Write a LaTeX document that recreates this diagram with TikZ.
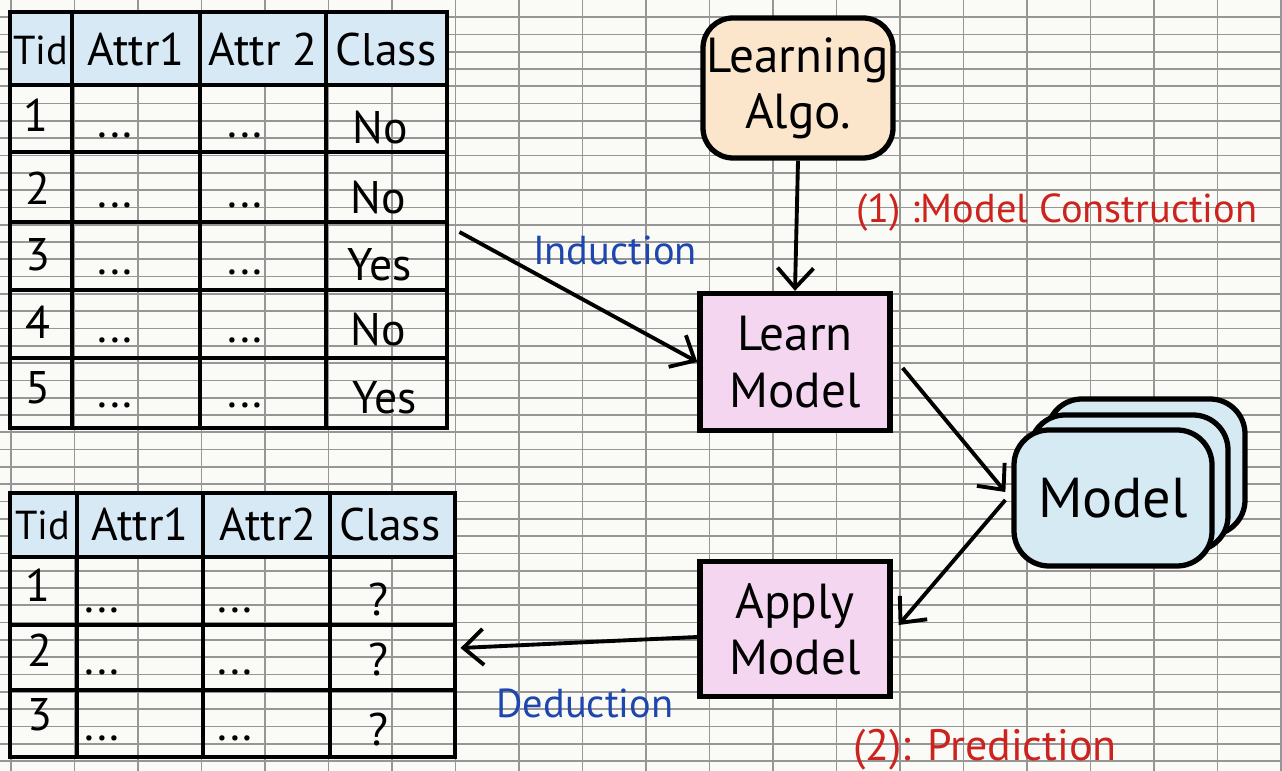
\documentclass[tikz,border=0pt]{standalone}
\usepackage{fontspec}
\setmainfont{PT Sans}
\usepackage{tikz}
\usetikzlibrary{arrows.meta, positioning, calc}
\usepackage{xcolor}
\definecolor{paper}{RGB}{250,250,247}
\definecolor{rule}{RGB}{150,150,150}
\definecolor{headblue}{RGB}{216,233,246}
\definecolor{algofill}{RGB}{251,230,204}
\definecolor{stepfill}{RGB}{244,214,240}
\definecolor{modelfill}{RGB}{214,234,244}
\definecolor{inkblue}{RGB}{30,70,175}
\definecolor{inkred}{RGB}{205,35,30}

\begin{document}
\begin{tikzpicture}[
  cell/.style={font=\fontsize{13}{15}\selectfont, inner sep=0pt},
  tab/.style={draw, line width=1.4pt, inner sep=0pt},
  box/.style={draw, line width=1.5pt, minimum width=1.9cm, minimum height=1.37cm, align=center, inner sep=1pt, font=\fontsize{14}{16}\selectfont},
  mbox/.style={draw, line width=1.5pt, rounded corners=3.5mm, fill=modelfill, minimum width=1.98cm, minimum height=1.36cm, font=\fontsize{16}{18}\selectfont},
  flow/.style={-{Straight Barb[length=2mm,width=3.6mm]}, line width=1.1pt},
  note/.style={font=\fontsize{11.5}{13}\selectfont, inner sep=0pt}
]
  \fill[paper] (0,0) rectangle (12.82,7.71);
  \useasboundingbox (0,0) rectangle (12.82,7.71);
  % Paper rules
  \foreach \k in {0,...,43} \draw[rule, line width=0.5pt] (0,{7.539-0.173*\k}) -- (12.82,{7.539-0.173*\k});
  \foreach \k in {0,...,20} \draw[rule, line width=0.5pt] ({0.11+0.635*\k},0) -- ({0.11+0.635*\k},7.71);

  % Training set
  \fill[headblue] (0.10,6.86) rectangle (4.47,7.59);
  \node[tab, minimum width=4.37cm, minimum height=4.16cm] (trainTab) at (2.285,5.51) {};
  \draw[line width=1.4pt] (0.10,6.86) -- (4.47,6.86); \draw[line width=1.4pt] (0.10,6.19) -- (4.47,6.19);
  \draw[line width=1.4pt] (0.10,5.49) -- (4.47,5.49); \draw[line width=1.4pt] (0.10,4.81) -- (4.47,4.81);
  \draw[line width=1.4pt] (0.10,4.13) -- (4.47,4.13);
  \draw[line width=1.4pt] (0.72,3.43) -- (0.72,7.59); \draw[line width=1.4pt] (2.00,3.43) -- (2.00,7.59);
  \draw[line width=1.4pt] (3.26,3.43) -- (3.26,7.59);
  \node[cell, font=\fontsize{11.5}{13}\selectfont] (trH1) at (0.41,7.21) {Tid}; \node[cell] (trH2) at (1.36,7.21) {Attr1};
  \node[cell] (trH3) at (2.63,7.21) {Attr 2}; \node[cell] (trH4) at (3.86,7.21) {Class};
  \node[cell] (tr1a) at (0.36,6.56) {1}; \node[cell] (tr1b) at (1.15,6.36) {...};
  \node[cell] (tr1c) at (2.45,6.36) {...}; \node[cell] (tr1d) at (3.80,6.43) {No};
  \node[cell] (tr2a) at (0.38,5.83) {2}; \node[cell] (tr2b) at (1.15,5.66) {...};
  \node[cell] (tr2c) at (2.45,5.66) {...}; \node[cell] (tr2d) at (3.78,5.73) {No};
  \node[cell] (tr3a) at (0.38,5.16) {3}; \node[cell] (tr3b) at (1.15,4.99) {...};
  \node[cell] (tr3c) at (2.45,4.99) {...}; \node[cell] (tr3d) at (3.80,5.06) {Yes};
  \node[cell] (tr4a) at (0.38,4.49) {4}; \node[cell] (tr4b) at (1.15,4.31) {...};
  \node[cell] (tr4c) at (2.45,4.31) {...}; \node[cell] (tr4d) at (3.78,4.41) {No};
  \node[cell] (tr5a) at (0.38,3.83) {5}; \node[cell] (tr5b) at (1.15,3.66) {...};
  \node[cell] (tr5c) at (2.45,3.66) {...}; \node[cell] (tr5d) at (3.85,3.73) {Yes};

  % Test set
  \fill[headblue] (0.10,2.14) rectangle (4.55,2.78);
  \node[tab, minimum width=4.45cm, minimum height=2.64cm] (testTab) at (2.325,1.46) {};
  \draw[line width=1.4pt] (0.10,2.14) -- (4.55,2.14); \draw[line width=1.4pt] (0.10,1.46) -- (4.55,1.46);
  \draw[line width=1.4pt] (0.10,0.81) -- (4.55,0.81);
  \draw[line width=1.4pt] (0.77,0.14) -- (0.77,2.78); \draw[line width=1.4pt] (2.03,0.14) -- (2.03,2.78);
  \draw[line width=1.4pt] (3.30,0.14) -- (3.30,2.78);
  \node[cell, font=\fontsize{11.5}{13}\selectfont] (teH1) at (0.43,2.46) {Tid}; \node[cell] (teH2) at (1.40,2.46) {Attr1};
  \node[cell] (teH3) at (2.68,2.46) {Attr2}; \node[cell] (teH4) at (3.90,2.46) {Class};
  \node[cell] (te1a) at (0.38,1.86) {1}; \node[cell] (te1b) at (1.02,1.61) {...};
  \node[cell] (te1c) at (2.35,1.61) {...}; \node[cell] (te1d) at (3.78,1.71) {?};
  \node[cell] (te2a) at (0.40,1.21) {2}; \node[cell] (te2b) at (1.02,0.99) {...};
  \node[cell] (te2c) at (2.35,0.99) {...}; \node[cell] (te2d) at (3.78,1.11) {?};
  \node[cell] (te3a) at (0.40,0.56) {3}; \node[cell] (te3b) at (1.02,0.33) {...};
  \node[cell] (te3c) at (2.35,0.33) {...}; \node[cell] (te3d) at (3.78,0.41) {?};

  % Steps
  \node[box, rounded corners=3mm, fill=algofill, minimum height=1.40cm] (algo) at (7.98,6.83) {Learning\\Algo.};
  \node[box, fill=stepfill] (learn) at (7.95,4.09) {Learn\\Model};
  \node[box, fill=stepfill, minimum height=1.35cm] (apply) at (7.95,1.42) {Apply\\Model};
  % Model stack
  \node[mbox] (mback) at (11.46,3.04) {};
  \node[mbox] (mmid) at (11.29,2.88) {};
  \node[mbox] (model) at (11.13,2.73) {Model};

  % Connectors
  \coordinate (trainOut) at ($(trainTab.east)+(0.10,-0.12)$);
  \coordinate (testIn) at ($(testTab.east)+(0.03,-0.23)$);
  \draw[flow] (algo.south) -- (learn.north);
  \draw[flow] (trainOut) -- (learn.west);
  \draw[flow] ([xshift=1mm,yshift=-0.6mm]learn.east) -- ([xshift=-0.6mm,yshift=0.6mm]model.west);
  \draw[flow] ([xshift=-0.6mm,yshift=-0.2mm]model.west) -- ([xshift=0.6mm,yshift=0.4mm]apply.east);
  \draw[flow] ([yshift=-0.8mm]apply.west) -- (testIn);

  % Labels
  \node[note, inkblue] (induct) at (6.15,5.21) {Induction};
  \node[note, inkblue] (deduct) at (5.85,0.68) {Deduction};
  \node[note, inkred] (phase1) at (10.57,5.58) {(1) :Model Construction};
  \node[note, inkred, font=\fontsize{12.5}{14}\selectfont] (phase2) at (9.85,0.21) {(2): Prediction};
\end{tikzpicture}
\end{document}
